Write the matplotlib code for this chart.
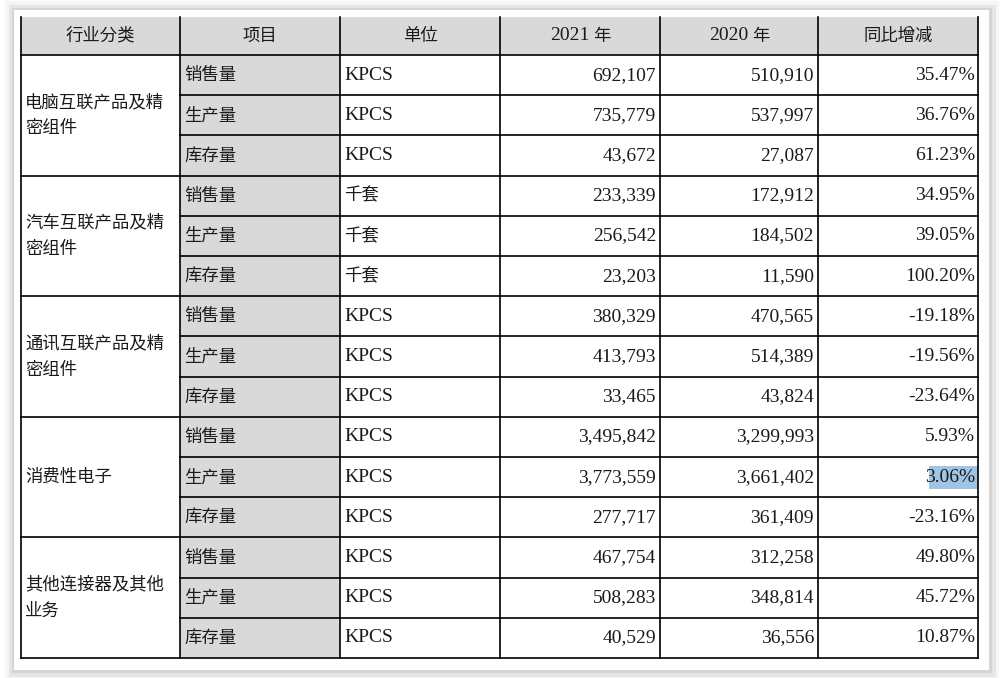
import matplotlib
matplotlib.use("Agg")
import matplotlib.pyplot as plt
from matplotlib.patches import Rectangle
from matplotlib import font_manager as fm

headers = ["行业分类", "项目", "单位", "2021 年", "2020 年", "同比增减"]
categories = ["电脑互联产品及精\n密组件", "汽车互联产品及精\n密组件", "通讯互联产品及精\n密组件", "消费性电子", "其他连接器及其他\n业务"]
items = ["销售量", "生产量", "库存量"]
units = ["KPCS", "千套", "KPCS", "KPCS", "KPCS"]
v2021 = ["692,107", "735,779", "43,672", "233,339", "256,542", "23,203",
         "380,329", "413,793", "33,465", "3,495,842", "3,773,559", "277,717",
         "467,754", "508,283", "40,529"]
v2020 = ["510,910", "537,997", "27,087", "172,912", "184,502", "11,590",
         "470,565", "514,389", "43,824", "3,299,993", "3,661,402", "361,409",
         "312,258", "348,814", "36,556"]
change = ["35.47%", "36.76%", "61.23%", "34.95%", "39.05%", "100.20%",
          "-19.18%", "-19.56%", "-23.64%", "5.93%", "3.06%", "-23.16%",
          "49.80%", "45.72%", "10.87%"]

# locate a CJK font
cjk_prop = None
names = [f.name for f in fm.fontManager.ttflist]
for pref in ["Noto Sans CJK SC", "Noto Sans CJK JP", "Noto Sans CJK TC", "Noto Sans CJK KR"]:
    if pref in names:
        cjk_prop = fm.FontProperties(family=pref)
        break
if cjk_prop is None:
    for f in fm.fontManager.ttflist:
        if "CJK" in f.name or "CJK" in f.fname:
            cjk_prop = fm.FontProperties(fname=f.fname)
            break
if cjk_prop is None:
    import glob
    fl = glob.glob("/usr/share/fonts/**/*CJK*", recursive=True)
    if fl:
        cjk_prop = fm.FontProperties(fname=fl[0])
    else:
        cjk_prop = fm.FontProperties()

W, H = 1001, 678
fig = plt.figure(figsize=(W/100, H/100), dpi=100)
ax = fig.add_axes([0, 0, 1, 1])
ax.set_xlim(0, W); ax.set_ylim(H, 0); ax.axis("off")

for i, a in enumerate([0.04, 0.06, 0.08]):
    d = 8 - i*3
    ax.add_patch(Rectangle((14-d/2, 10-d/2), 975+d, 660+d, fc="none", ec=(0,0,0,a), lw=d))
ax.add_patch(Rectangle((14, 10), 975, 660, fc="white", ec="none"))

cols = [21, 180, 340, 500, 660, 818, 978]
top, hb = 17, 55
rh = (658 - hb) / 15
rows_y = [hb + rh*i for i in range(16)]

ser = "Liberation Serif"
fs_c = 12.5
fs_n = 14
gray = "#d9d9d9"
tc = "#1a1a1a"

def cj(x, y, s, ha, **kw):
    p = cjk_prop.copy(); p.set_size(fs_c)
    ax.text(x, y, s, ha=ha, va="center", fontproperties=p, color=tc, **kw)

def nm(x, y, s, ha):
    ax.text(x, y, s, ha=ha, va="center", fontsize=fs_n, fontfamily=ser, color=tc)

ax.add_patch(Rectangle((cols[0], top), cols[-1]-cols[0], hb-top, fc=gray, ec="none"))
ax.add_patch(Rectangle((cols[1], hb), cols[2]-cols[1], rows_y[-1]-hb, fc=gray, ec="none"))
ax.add_patch(Rectangle((929, 466), 49, 23, fc="#9fc4e4", ec="none"))

hy = (top+hb)/2
for j in [0, 1, 2, 5]:
    cj((cols[j]+cols[j+1])/2, hy, headers[j], "center")
for j in [3, 4]:
    num, nian = headers[j].split(" ")
    cx = (cols[j]+cols[j+1])/2
    nm(cx - 10, hy, num, "center")
    cj(cx + 22, hy, nian, "center")

for g, cat in enumerate(categories):
    ymid = (rows_y[g*3] + rows_y[g*3+3]) / 2
    cj(cols[0]+4, ymid, cat, "left", linespacing=1.6)
    for k in range(3):
        r = g*3 + k
        yc = (rows_y[r] + rows_y[r+1]) / 2
        cj(cols[1]+4, yc, items[k], "left")
        if units[g].isascii():
            nm(cols[2]+4, yc, units[g], "left")
        else:
            cj(cols[2]+4, yc, units[g], "left")
        nm(cols[4]-4, yc, v2021[r], "right")
        nm(cols[5]-4, yc, v2020[r], "right")
        nm(cols[6]-3, yc, change[r], "right")

lw = 1.2
for x in cols:
    ax.plot([x, x], [top, rows_y[-1]], color="black", lw=lw)
ax.plot([cols[0], cols[-1]], [hb, hb], color="black", lw=lw)
for i in range(1, 16):
    y = rows_y[i]
    x0 = cols[0] if i % 3 == 0 else cols[1]
    ax.plot([x0, cols[-1]], [y, y], color="black", lw=lw)

fig.savefig("out.png", dpi=100)
